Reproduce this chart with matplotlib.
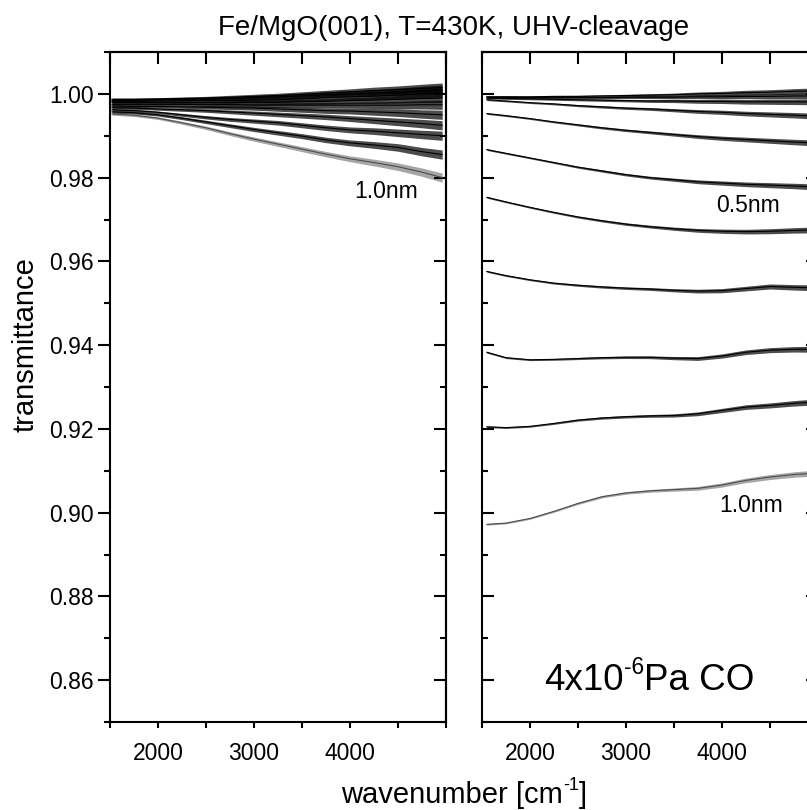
import matplotlib
matplotlib.use("Agg")
import matplotlib.pyplot as plt
from matplotlib.transforms import IdentityTransform
import numpy as np

plt.rcParams['font.family'] = ['Liberation Sans', 'DejaVu Sans']

# ---------------- data ----------------
title = "Fe/MgO(001), T=430K, UHV-cleavage"
xlabel_parts = [("wavenumber [cm", False), ("-1", True), ("]", False)]
ylabel = "transmittance"

x_major = [2000, 3000, 4000]
x_minor = [1500, 2500, 3500, 4500, 5000]
x_all = [1500, 2000, 2500, 3000, 3500, 4000, 4500, 5000]
y_major = [0.86, 0.88, 0.90, 0.92, 0.94, 0.96, 0.98, 1.00]
y_minor = [0.85, 0.87, 0.89, 0.91, 0.93, 0.95, 0.97, 0.99, 1.01]

# left panel: UHV-cleavage, no CO (thinnest film on top, 1.0nm at the bottom)
left_x = [1520, 1750, 2000, 2250, 2500, 2750, 3000, 3250, 3500, 3750, 4000, 4250, 4500, 4750, 4960]
left_curves = [
    [0.9987, 0.9987, 0.9988, 0.9989, 0.9990, 0.9992, 0.9994, 0.9996, 0.9999, 1.0002, 1.0005, 1.0008, 1.0010, 1.0013, 1.0015],
    [0.9985, 0.9985, 0.9986, 0.9987, 0.9988, 0.9989, 0.9991, 0.9993, 0.9995, 0.9998, 1.0000, 1.0002, 1.0005, 1.0008, 1.0010],
    [0.9982, 0.9982, 0.9983, 0.9983, 0.9984, 0.9984, 0.9985, 0.9986, 0.9988, 0.9991, 0.9993, 0.9995, 0.9997, 1.0000, 1.0003],
    [0.9979, 0.9979, 0.9979, 0.9979, 0.9979, 0.9979, 0.9980, 0.9980, 0.9981, 0.9982, 0.9984, 0.9985, 0.9987, 0.9989, 0.9990],
    [0.9975, 0.9975, 0.9975, 0.9975, 0.9974, 0.9974, 0.9973, 0.9973, 0.9973, 0.9973, 0.9973, 0.9973, 0.9973, 0.9974, 0.9974],
    [0.9971, 0.9970, 0.9970, 0.9969, 0.9968, 0.9967, 0.9966, 0.9964, 0.9962, 0.9960, 0.9959, 0.9957, 0.9955, 0.9952, 0.9950],
    [0.9967, 0.9966, 0.9964, 0.9962, 0.9960, 0.9957, 0.9954, 0.9951, 0.9948, 0.9945, 0.9941, 0.9937, 0.9933, 0.9929, 0.9925],
    [0.9962, 0.9960, 0.9956, 0.9950, 0.9944, 0.9939, 0.9935, 0.9931, 0.9925, 0.9919, 0.9914, 0.9911, 0.9907, 0.9903, 0.9900],
    [0.9957, 0.9955, 0.9950, 0.9942, 0.9933, 0.9924, 0.9915, 0.9907, 0.9899, 0.9890, 0.9883, 0.9878, 0.9872, 0.9862, 0.9855],
    [0.9952, 0.9949, 0.9942, 0.9931, 0.9919, 0.9905, 0.9892, 0.9880, 0.9868, 0.9856, 0.9845, 0.9836, 0.9826, 0.9813, 0.9800],
]
left_noise = [0.0003, 0.0003, 0.0003, 0.00035, 0.0004, 0.00045, 0.0005, 0.00055,
              0.0006, 0.00065, 0.0007, 0.0008, 0.0009, 0.0010, 0.0011]

# right panel: 4x10^-6 Pa CO
right_x = [1550, 1750, 2000, 2250, 2500, 2750, 3000, 3250, 3500, 3750, 4000, 4250, 4500, 4750, 4950]
right_curves = [
    [0.9993, 0.9993, 0.9993, 0.9994, 0.9994, 0.9995, 0.9996, 0.9997, 0.9998, 1.0000, 1.0001, 1.0003, 1.0004, 1.0006, 1.0007],
    [0.9992, 0.9992, 0.9991, 0.9991, 0.9991, 0.9991, 0.9992, 0.9992, 0.9992, 0.9993, 0.9993, 0.9994, 0.9994, 0.9995, 0.9995],
    [0.9990, 0.9989, 0.9988, 0.9987, 0.9986, 0.9985, 0.9984, 0.9983, 0.9983, 0.9982, 0.9982, 0.9981, 0.9981, 0.9981, 0.9981],
    [0.9986, 0.9983, 0.9979, 0.9976, 0.9972, 0.9969, 0.9966, 0.9964, 0.9961, 0.9958, 0.9956, 0.9953, 0.9951, 0.9949, 0.9947],
    [0.9953, 0.9948, 0.9941, 0.9933, 0.9926, 0.9919, 0.9913, 0.9908, 0.9903, 0.9898, 0.9894, 0.9891, 0.9888, 0.9885, 0.9883],
    [0.9867, 0.9858, 0.9847, 0.9836, 0.9825, 0.9816, 0.9807, 0.9800, 0.9795, 0.9790, 0.9787, 0.9784, 0.9782, 0.9780, 0.9778],
    [0.9753, 0.9742, 0.9729, 0.9717, 0.9706, 0.9697, 0.9689, 0.9683, 0.9678, 0.9674, 0.9672, 0.9671, 0.9672, 0.9674, 0.9675],
    [0.9576, 0.9566, 0.9556, 0.9548, 0.9543, 0.9539, 0.9536, 0.9534, 0.9531, 0.9529, 0.9530, 0.9535, 0.9540, 0.9538, 0.9537],
    [0.9383, 0.9370, 0.9365, 0.9366, 0.9368, 0.9370, 0.9371, 0.9371, 0.9369, 0.9368, 0.9374, 0.9383, 0.9388, 0.9390, 0.9390],
    [0.9205, 0.9203, 0.9206, 0.9213, 0.9221, 0.9226, 0.9229, 0.9231, 0.9232, 0.9236, 0.9244, 0.9252, 0.9256, 0.9261, 0.9264],
    [0.8972, 0.8975, 0.8986, 0.9003, 0.9022, 0.9038, 0.9047, 0.9052, 0.9055, 0.9058, 0.9066, 0.9077, 0.9085, 0.9091, 0.9094],
]
right_noise = [0.0002, 0.0002, 0.0002, 0.00022, 0.00025, 0.00028, 0.0003, 0.00033,
               0.00038, 0.00045, 0.0005, 0.00055, 0.0006, 0.00065, 0.0007]

left_labels = [("1.0nm", 4375, 0.9766)]
right_labels = [("0.5nm", 4276, 0.9733), ("1.0nm", 4302, 0.9018)]
pressure_parts = [("4x10", False), ("-6", True), ("Pa CO", False)]
pressure_pos = (3240, 0.8576)

# ---------------- figure ----------------
W, H = 807, 810
fig = plt.figure(figsize=(W / 100, H / 100), dpi=100)


def frac(x0, x1, ytop, ybot):
    return [x0 / W, 1 - ybot / H, (x1 - x0) / W, (ybot - ytop) / H]


axL = fig.add_axes(frac(110, 446, 52, 722))
axR = fig.add_axes(frac(482, 818, 52, 722))

TK = 16.5
LW = 1.5
long_t = 8.6
short_t = 4.3


def style(ax, ylabels):
    ax.set_xlim(1500, 5000)
    ax.set_ylim(0.85, 1.01)
    for s in ax.spines.values():
        s.set_linewidth(LW)
    ax.set_xticks(x_major)
    ax.set_xticks(x_minor, minor=True)
    ax.set_xticklabels([str(v) for v in x_major])
    ax.set_yticks(y_major)
    ax.set_yticks(y_minor, minor=True)
    ax.tick_params(axis='x', which='both', direction='out', length=short_t,
                   width=LW, top=False, bottom=True, labelsize=TK, pad=10)
    if ylabels:
        ax.set_yticklabels(["%.2f" % v for v in y_major])
        ax.tick_params(axis='y', which='major', direction='out', length=long_t,
                       width=LW, left=True, right=False, labelsize=TK, pad=3)
        ax.tick_params(axis='y', which='minor', direction='out', length=short_t,
                       width=LW, left=True, right=False)
    else:
        ax.tick_params(axis='y', which='major', direction='in', length=long_t,
                       width=LW, left=True, right=False, labelleft=False)
        ax.tick_params(axis='y', which='minor', direction='in', length=short_t,
                       width=LW, left=True, right=False)
    top = ax.secondary_xaxis('top')
    top.set_xticks(x_all)
    top.tick_params(axis='x', direction='in', length=long_t, width=LW,
                    labeltop=False)
    top.spines['top'].set_linewidth(LW)
    rgt = ax.secondary_yaxis('right')
    rgt.set_yticks(y_major)
    rgt.set_yticks(y_minor, minor=True)
    rgt.tick_params(axis='y', which='major', direction='in', length=long_t,
                    width=LW, labelright=False)
    rgt.tick_params(axis='y', which='minor', direction='in', length=short_t,
                    width=LW, labelright=False)
    rgt.spines['right'].set_linewidth(LW)


def draw(ax, xs, curves, noise):
    xs = np.array(xs, dtype=float)
    n = np.array(noise)
    last = len(curves) - 1
    for i, c in enumerate(curves):
        c = np.array(c)
        light = (i == last)
        ax.fill_between(xs, c - n, c + n, color='black', lw=0,
                        alpha=0.35 if light else 0.7)
        ax.plot(xs, c, color='0.3' if light else 'black', lw=0.8)


draw(axL, left_x, left_curves, left_noise)
draw(axR, right_x, right_curves, right_noise)
style(axL, True)
style(axR, False)

for t, xv, yv in left_labels:
    axL.text(xv, yv, t, fontsize=TK, ha='center', va='center')
for t, xv, yv in right_labels:
    axR.text(xv, yv, t, fontsize=TK, ha='center', va='center')


def rich(cx, base_y, parts, size, sup_scale=0.62, raise_frac=0.45):
    """Lay out text pieces (some superscript) centred at cx, baseline base_y (display px)."""
    r = fig.canvas.get_renderer()
    objs = []
    for txt, sup in parts:
        fs = size * sup_scale if sup else size
        t = fig.text(0, 0, txt, fontsize=fs, transform=IdentityTransform(),
                     va='baseline', ha='left')
        objs.append((t, sup))
    widths = [t.get_window_extent(r).width for t, _ in objs]
    x = cx - sum(widths) / 2
    for (t, sup), w in zip(objs, widths):
        y = base_y + (size * raise_frac * fig.dpi / 72 if sup else 0)
        t.set_position((x, y))
        x += w


fig.canvas.draw()
px, py = axR.transData.transform(pressure_pos)
rich(px, py, pressure_parts, 26.5)
rich(464, H - 803, xlabel_parts, 21)

fig.text(454 / W, 1 - 28 / H, title, fontsize=20, ha='center', va='center')
fig.text(26 / W, 1 - 345 / H, ylabel, fontsize=21, ha='center', va='center',
         rotation=90)

fig.savefig("out.png", dpi=100)
